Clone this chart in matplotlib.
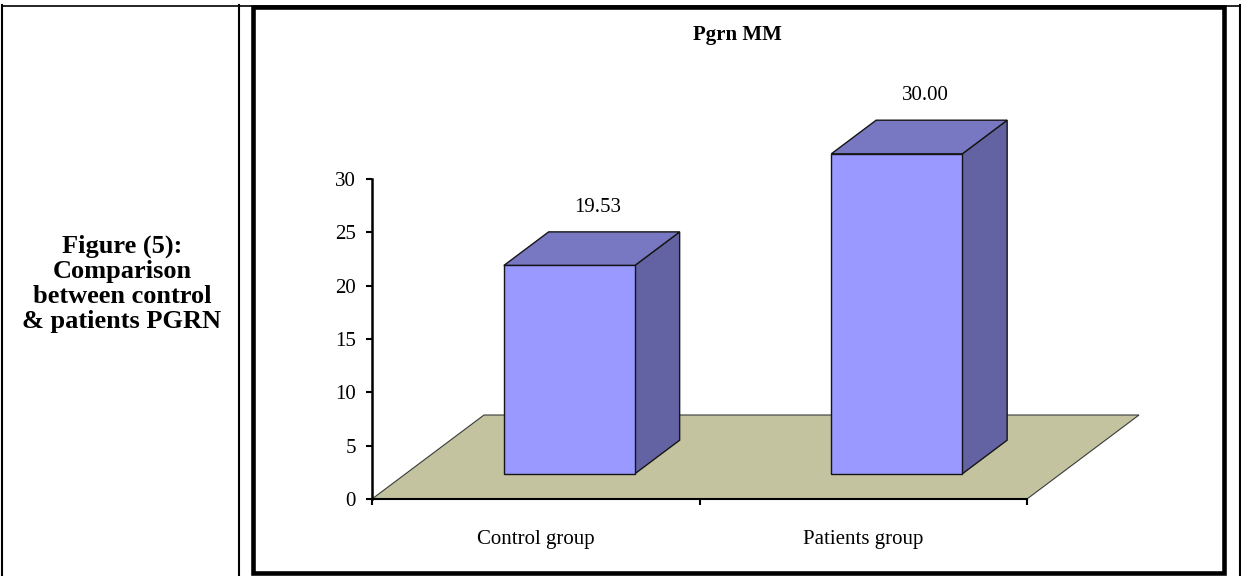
import matplotlib
matplotlib.use('Agg')
import matplotlib.pyplot as plt
from matplotlib.patches import Polygon, Rectangle
from matplotlib.lines import Line2D

plt.rcParams['font.family'] = ['Liberation Serif', 'DejaVu Serif']

# ----- DATA -----
groups = ['Control group', 'Patients group']
pgrn = [19.53, 30.00]
value_labels = ['19.53', '30.00']
y_ticks = [0, 5, 10, 15, 20, 25, 30]
chart_title = 'Pgrn MM'
caption = 'Figure (5):\nComparison\nbetween control\n& patients PGRN'

# ----- 3D LOOK -----
DX, DY = 0.342, 7.875    # floor depth in data units (x, y)
F0, F1 = 0.30, 0.70      # bar front / back as a fraction of the depth
BAR_W = 0.40
FRONT = '#9999ff'
TOP = '#7777c2'
SIDE = '#6363a3'
FLOOR = '#c3c39f'
EDGE = '#151515'

W, H = 1241, 576
fig = plt.figure(figsize=(W / 100, H / 100), dpi=100)
ax = fig.add_axes([372 / W, 1 - 499 / H, 655 / W, 320 / H])

n = len(groups)
ax.set_xlim(0, n)
ax.set_ylim(0, max(y_ticks))

# floor
floor = Polygon([(0, 0), (n, 0), (n + DX, DY), (DX, DY)], closed=True,
                fc=FLOOR, ec='#3a3a3a', lw=0.8, clip_on=False, zorder=1)
ax.add_patch(floor)

# bars: side, top, then front face
ddx, ddy = (F1 - F0) * DX, (F1 - F0) * DY
for i, v in enumerate(pgrn):
    cx = i + 0.5
    x0 = cx - BAR_W / 2 + F0 * DX
    x1 = x0 + BAR_W
    y0 = F0 * DY
    y1 = y0 + v
    side = [(x1, y0), (x1 + ddx, y0 + ddy), (x1 + ddx, y1 + ddy), (x1, y1)]
    top = [(x0, y1), (x1, y1), (x1 + ddx, y1 + ddy), (x0 + ddx, y1 + ddy)]
    front = [(x0, y0), (x1, y0), (x1, y1), (x0, y1)]
    for pts, c in ((side, SIDE), (top, TOP), (front, FRONT)):
        ax.add_patch(Polygon(pts, closed=True, fc=c, ec=EDGE, lw=1.0,
                             joinstyle='miter', clip_on=False, zorder=2))
    ax.text(cx + 0.19, F1 * DY + v + 2.3, value_labels[i],
            ha='center', va='center', fontsize=15)

# axes styling
for s in ('top', 'right'):
    ax.spines[s].set_visible(False)
ax.spines['left'].set_linewidth(1.8)
ax.spines['bottom'].set_linewidth(1.5)
ax.patch.set_visible(False)

ax.set_yticks(y_ticks)
ax.tick_params(axis='y', length=4.5, width=1.5, pad=7, labelsize=15)
ax.set_xticks(range(n + 1))
ax.set_xticklabels([''] * (n + 1))
ax.set_xticks([i + 0.5 for i in range(n)], minor=True)
ax.set_xticklabels(groups, minor=True)
ax.tick_params(axis='x', which='major', length=4.5, width=1.5)
ax.tick_params(axis='x', which='minor', length=0, pad=22, labelsize=15)

fig.text(737 / W, 1 - 35 / H, chart_title, ha='center', va='center',
         fontweight='bold', fontsize=15)

# table cell with caption on the left
fig.text(122 / W, 1 - 284 / H, caption, ha='center', va='center',
         fontweight='bold', fontsize=19, linespacing=1.12)

tf = fig.transFigure
fig.lines.append(Line2D([2.5 / W, 1239.5 / W], [1 - 5.5 / H, 1 - 5.5 / H],
                        transform=tf, color='black', lw=1.2))
for xp in (2.5, 238.5, 1239.5):
    fig.lines.append(Line2D([xp / W, xp / W], [0, 1 - 5 / H],
                            transform=tf, color='black', lw=1.5))

# thick frame round the chart
fig.patches.append(Rectangle((253 / W, 1 - 572.5 / H), (1223.5 - 253) / W,
                             (572.5 - 7) / H, transform=tf, fill=False,
                             lw=3.3, ec='black'))

fig.savefig('out.png', dpi=100, facecolor='white')
